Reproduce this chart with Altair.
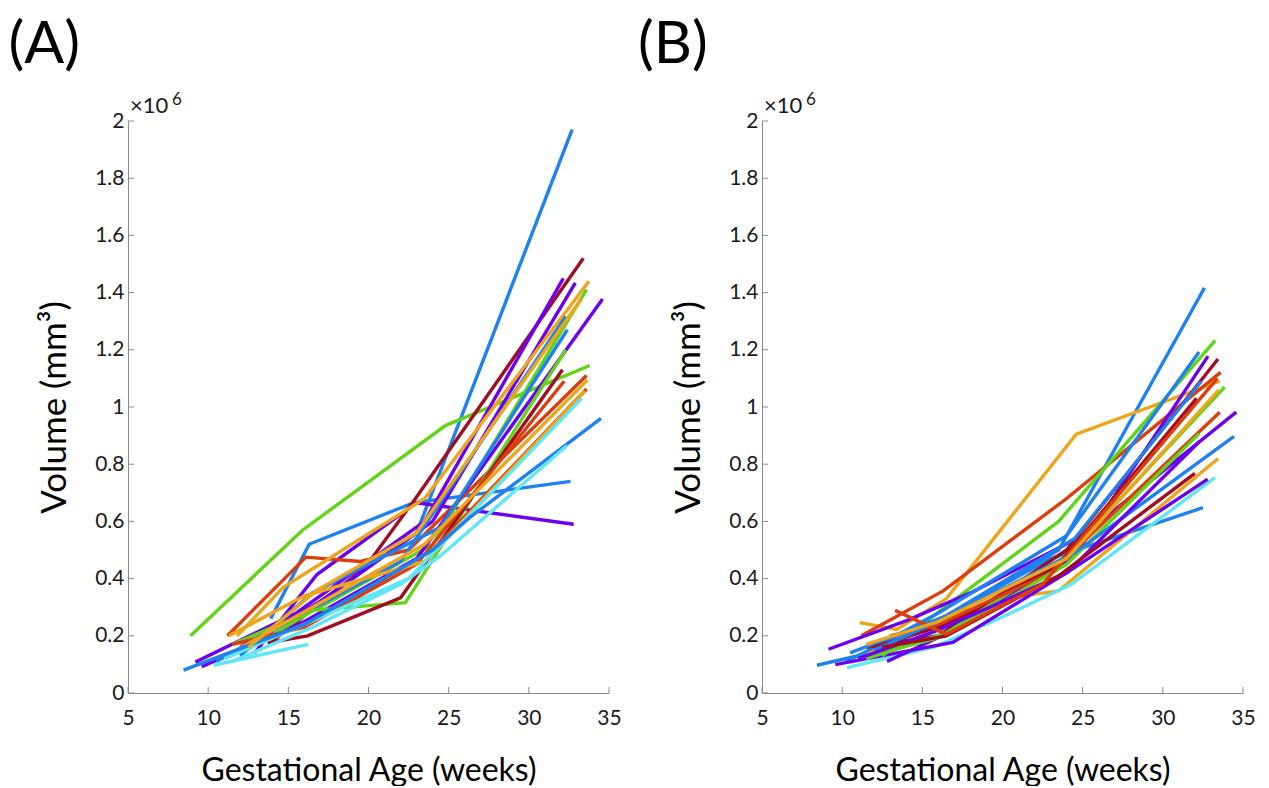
import altair as alt
import pandas as pd

# ---------------- data (volume in units of 1e6 mm^3) ----------------
BLUE, GREEN, ORANGE, RED = "#1f80ef", "#62d418", "#eda51c", "#dc3d0c"
DARKRED, PURPLE, CYAN = "#a00c22", "#6e00f0", "#5fe6f7"

A_COLORS = [BLUE, GREEN, BLUE, PURPLE, RED, DARKRED, PURPLE, PURPLE, ORANGE,
            GREEN, PURPLE, BLUE, BLUE, GREEN, DARKRED, RED, ORANGE, RED,
            ORANGE, CYAN, BLUE, CYAN, CYAN, ORANGE]
A_AGES = [
    [11.5, 16.5, 23.0, 32.7],
    [8.9, 15.9, 24.8, 33.8],
    [13.9, 16.3, 22.8, 32.6],
    [12.9, 16.8, 23.0, 32.8],
    [11.2, 16.1, 19.5, 22.5, 33.6],
    [14.0, 19.8, 22.8, 33.4],
    [9.2, 15.5, 23.5, 32.15],
    [12.0, 17.0, 24.0, 32.9],
    [11.8, 14.7, 23.5, 33.75],
    [11.5, 17.0, 24.0, 33.6],
    [9.6, 16.0, 23.0, 34.6],
    [10.5, 16.0, 22.0, 32.3],
    [12.0, 16.5, 24.5, 32.4],
    [12.4, 16.6, 22.3, 32.3],
    [13.7, 16.2, 22.0, 32.1],
    [11.5, 16.0, 23.0, 32.2],
    [11.25, 16.5, 23.5, 33.65],
    [13.0, 16.8, 24.0, 33.6],
    [11.3, 16.0, 23.5, 33.5],
    [11.0, 16.0, 22.5, 33.3],
    [8.46, 16.0, 24.0, 26.3, 34.5],
    [11.5, 16.5, 22.0, 24.5, 32.4],
    [10.33, 16.25],
    [12.5, 16.8, 23.0, 33.3],
]
A_VOLS = [
    [0.14, 0.30, 0.56, 1.97],
    [0.20, 0.57, 0.935, 1.145],
    [0.26, 0.52, 0.665, 0.74],
    [0.14, 0.415, 0.665, 0.59],
    [0.20, 0.475, 0.46, 0.50, 1.11],
    [0.18, 0.44, 0.67, 1.52],
    [0.108, 0.28, 0.60, 1.45],
    [0.16, 0.32, 0.60, 1.434],
    [0.20, 0.37, 0.68, 1.44],
    [0.17, 0.30, 0.52, 1.41],
    [0.092, 0.25, 0.47, 1.378],
    [0.11, 0.28, 0.46, 1.317],
    [0.13, 0.35, 0.58, 1.27],
    [0.15, 0.29, 0.316, 1.20],
    [0.175, 0.20, 0.333, 1.13],
    [0.17, 0.23, 0.45, 1.09],
    [0.133, 0.30, 0.52, 1.094],
    [0.17, 0.26, 0.50, 1.063],
    [0.20, 0.34, 0.46, 1.056],
    [0.12, 0.24, 0.40, 1.03],
    [0.08, 0.24, 0.50, 0.613, 0.96],
    [0.11, 0.23, 0.38, 0.48, 0.866],
    [0.097, 0.17],
    [0.16, 0.36, 0.56, 1.38],
]

B_COLORS = [BLUE, BLUE, ORANGE, ORANGE, CYAN, PURPLE, RED, GREEN, PURPLE,
            BLUE, PURPLE, DARKRED, GREEN, BLUE, DARKRED, RED, GREEN, BLUE,
            PURPLE, DARKRED, RED, ORANGE]
B_AGES = [
    [8.43, 12.5, 17.5, 23.0, 32.5],
    [10.2, 16.5, 23.5, 32.6],
    [11.1, 13.4, 16.5, 24.6, 33.55],
    [11.5, 16.0, 19.9, 23.5, 33.45],
    [10.3, 15.7, 19.9, 24.3, 33.25],
    [9.57, 16.9, 24.0, 32.8],
    [11.2, 16.3, 24.0, 33.6],
    [12.5, 16.4, 23.5, 33.27],
    [9.15, 14.1, 18.0, 25.0, 34.58],
    [11.0, 16.0, 24.0, 32.26],
    [12.8, 17.0, 24.5, 32.82],
    [11.5, 16.0, 24.0, 33.44],
    [11.5, 16.5, 24.0, 33.86],
    [10.5, 16.5, 24.5, 32.4],
    [12.0, 16.5, 23.5, 32.1],
    [13.0, 16.0, 23.0, 33.55],
    [12.5, 16.4, 24.0, 32.26],
    [12.0, 16.0, 24.5, 34.44],
    [11.0, 16.0, 24.0, 32.3],
    [12.5, 16.5, 23.5, 32.0],
    [13.3, 16.5, 22.5, 33.4],
    [11.5, 16.0, 24.0, 33.5],
]
B_VOLS = [
    [0.097, 0.15, 0.30, 0.47, 0.648],
    [0.11, 0.27, 0.50, 1.417],
    [0.246, 0.222, 0.33, 0.905, 1.09],
    [0.14, 0.25, 0.33, 0.357, 0.82],
    [0.089, 0.16, 0.263, 0.38, 0.753],
    [0.099, 0.177, 0.42, 0.748],
    [0.20, 0.357, 0.68, 1.121],
    [0.13, 0.30, 0.60, 1.233],
    [0.153, 0.255, 0.35, 0.55, 0.982],
    [0.13, 0.28, 0.55, 1.192],
    [0.11, 0.22, 0.48, 1.178],
    [0.16, 0.20, 0.50, 1.168],
    [0.12, 0.21, 0.48, 1.07],
    [0.14, 0.27, 0.54, 1.09],
    [0.16, 0.24, 0.45, 1.03],
    [0.20, 0.24, 0.42, 0.982],
    [0.14, 0.20, 0.45, 0.907],
    [0.15, 0.25, 0.49, 0.897],
    [0.12, 0.22, 0.42, 0.88],
    [0.16, 0.20, 0.41, 0.768],
    [0.289, 0.205, 0.38, 1.10],
    [0.17, 0.25, 0.47, 1.06],
]

X_TICKS = [5, 10, 15, 20, 25, 30, 35]
Y_TICKS = [0, 0.2, 0.4, 0.6, 0.8, 1.0, 1.2, 1.4, 1.6, 1.8, 2.0]

# ---------------- layout / style ----------------
W, H = 481, 572
FONT = "Lato"
AXIS_GRAY = "#8a8a8a"
TEXT = "#1a1a1a"


def long_table(ages, vols, colors):
    rows = []
    for i, (a, v, c) in enumerate(zip(ages, vols, colors)):
        for j, (x, y) in enumerate(zip(a, v)):
            rows.append({"subject": i, "order": j, "age": x, "vol": y, "color": c})
    return pd.DataFrame(rows)


def panel(ages, vols, colors, label, dx):
    df = long_table(ages, vols, colors)
    xs = alt.Scale(domain=[5, 35], nice=False, zero=False)
    ys = alt.Scale(domain=[0, 2], nice=False)
    lines = alt.Chart(df).mark_line(strokeWidth=3.4, strokeCap="butt").encode(
        x=alt.X("age:Q", scale=xs, axis=alt.Axis(
            values=X_TICKS, title="Gestational Age (weeks)", tickSize=0,
            labelPadding=14, titlePadding=27, labelFontSize=21,
            titleFontSize=32, grid=False)),
        y=alt.Y("vol:Q", scale=ys, axis=alt.Axis(
            values=Y_TICKS, format="~g", title="Volume (mm³)", tickSize=0,
            labelPadding=4, titlePadding=22, labelFontSize=21,
            titleFontSize=35, grid=False)),
        color=alt.Color("color:N", scale=None),
        detail="subject:N",
        order="order:Q",
    )
    xt = alt.Chart(pd.DataFrame({"t": X_TICKS})).mark_rule(
        color=AXIS_GRAY, strokeWidth=1).encode(
        x=alt.X("t:Q", scale=xs), y=alt.value(H), y2=alt.value(H - 6))
    yt = alt.Chart(pd.DataFrame({"t": Y_TICKS})).mark_rule(
        color=AXIS_GRAY, strokeWidth=1).encode(
        y=alt.Y("t:Q", scale=ys), x=alt.value(0), x2=alt.value(6))
    exp1 = alt.Chart(pd.DataFrame({"s": ["×10"]})).mark_text(
        font=FONT, fontSize=22, align="left", baseline="alphabetic",
        color=TEXT).encode(text="s:N", x=alt.value(2), y=alt.value(-8))
    exp2 = alt.Chart(pd.DataFrame({"s": ["6"]})).mark_text(
        font=FONT, fontSize=17, align="left", baseline="alphabetic",
        color=TEXT).encode(text="s:N", x=alt.value(44), y=alt.value(-16))
    return alt.layer(lines, xt, yt, exp1, exp2).properties(
        width=W, height=H,
        title=alt.TitleParams(label, anchor="start", fontSize=59,
                              fontWeight="normal", font=FONT, color="#000",
                              dx=dx, offset=16, frame="group"),
    )


pa = panel(A_AGES, A_VOLS, A_COLORS, "(A)", -119.5)
pb = panel(B_AGES, B_VOLS, B_COLORS, "(B)", -124)

chart = alt.hconcat(pa, pb, spacing=16).properties(
    background="white",
    padding={"left": 0, "top": 8, "right": 0, "bottom": 0},
).configure_view(stroke=None).configure_axis(
    grid=False, domainColor=AXIS_GRAY, domainWidth=1, labelFont=FONT,
    titleFont=FONT, labelColor=TEXT, titleColor="#000",
    titleFontWeight="normal", labelFlush=False,
)

chart.save("out.html", embed_options={"renderer": "svg", "actions": False})
